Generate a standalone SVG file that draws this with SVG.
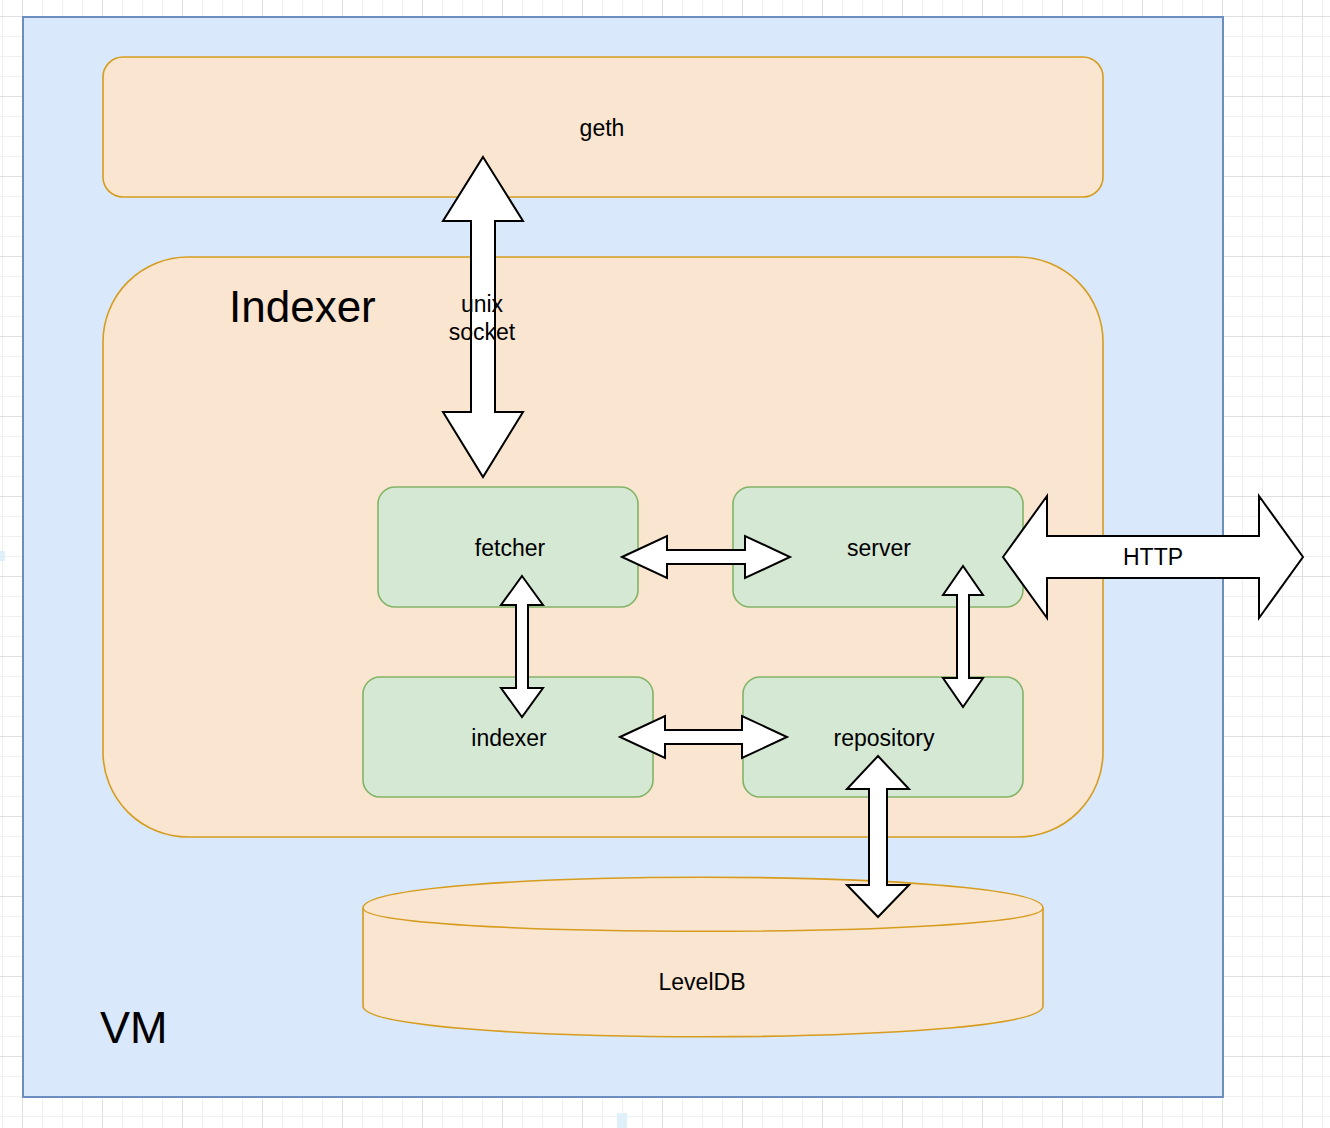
<svg xmlns="http://www.w3.org/2000/svg" width="1330" height="1128" viewBox="0 0 1330 1128">
<style>
text{font-family:"Liberation Sans",Arial,sans-serif;fill:#000;text-anchor:middle}
.orange{fill:#fae5d0;stroke:#d69c1e;stroke-width:1.6}
.green{fill:#d5e8d4;stroke:#82b366;stroke-width:1.6}
.arrow{fill:#fff;stroke:#000;stroke-width:2;stroke-linejoin:miter}
.lbl{font-size:23px}
.big{font-size:45px;text-anchor:start}
</style>
<defs>
<pattern id="minor" x="2" y="16" width="20" height="20" patternUnits="userSpaceOnUse">
<path d="M0.5 0V20M0 0.5H20" stroke="#f0f0f0" stroke-width="1" fill="none"/>
</pattern>
<pattern id="major" x="22" y="16" width="80" height="80" patternUnits="userSpaceOnUse">
<path d="M0.5 0V80M0 0.5H80" stroke="#e0e0e0" stroke-width="1" fill="none"/>
</pattern>
</defs>
<rect width="1330" height="1128" fill="#fff"/>
<rect width="1330" height="1128" fill="url(#minor)"/>
<rect width="1330" height="1128" fill="url(#major)"/>
<rect x="0" y="551" width="5" height="10" fill="#dff0fa"/>
<rect x="617" y="1113" width="10" height="15" fill="#dff0fa"/>
<g id="vm">
<rect x="23" y="17" width="1200" height="1080" fill="#dae8fc" stroke="#6c8ebf" stroke-width="2"/>
<text class="big" x="100" y="1043">VM</text>
</g>
<g id="geth">
<rect class="orange" x="103" y="57" width="1000" height="140" rx="20"/>
<text class="lbl" x="602" y="136">geth</text>
</g>
<g id="indexer-container">
<rect class="orange" x="103" y="257" width="1000" height="580" rx="85"/>
<text class="big" x="229" y="322" style="font-size:44px">Indexer</text>
</g>
<g id="fetcher">
<rect class="green" x="378" y="487" width="260" height="120" rx="17"/>
<text class="lbl" x="510" y="556">fetcher</text>
</g>
<g id="server">
<rect class="green" x="733" y="487" width="290" height="120" rx="17"/>
<text class="lbl" x="879" y="556">server</text>
</g>
<g id="indexer">
<rect class="green" x="363" y="677" width="290" height="120" rx="17"/>
<text class="lbl" x="509" y="746">indexer</text>
</g>
<g id="repository">
<rect class="green" x="743" y="677" width="280" height="120" rx="17"/>
<text class="lbl" x="884" y="746">repository</text>
</g>
<g id="leveldb">
<path class="orange" d="M363 908C363 867 1043 867 1043 908L1043 1006C1043 1047 363 1047 363 1006Z"/>
<path d="M363 908C363 939 1043 939 1043 908" fill="none" stroke="#d69c1e" stroke-width="1.6"/>
<text class="lbl" x="702" y="990">LevelDB</text>
</g>
<g id="connectors">
<polygon class="arrow" points="483,157 523,221 495,221 495,412 523,412 483,477 443,412 471,412 471,221 443,221"/>
<text class="lbl" x="482" y="312">unix</text>
<text class="lbl" x="482" y="340">socket</text>
<polygon class="arrow" points="622,557 667,536 667,550 745,550 745,536 790,557 745,578 745,564 667,564 667,578"/>
<polygon class="arrow" points="620,737 665,716 665,730 742,730 742,716 787,737 742,758 742,744 665,744 665,758"/>
<polygon class="arrow" points="522,576 543,605 528,605 528,688 543,688 522,717 501,688 516,688 516,605 501,605"/>
<polygon class="arrow" points="963,566 983,595 969,595 969,678 983,678 963,707 943,678 957,678 957,595 943,595"/>
<polygon class="arrow" points="878,756 909,789 887,789 887,885 909,885 878,917 847,885 869,885 869,789 847,789"/>
<polygon class="arrow" points="1003,557 1047,496 1047,536 1259,536 1259,496 1303,557 1259,618 1259,578 1047,578 1047,618"/>
<text class="lbl" x="1153" y="565">HTTP</text>
</g>
</svg>
